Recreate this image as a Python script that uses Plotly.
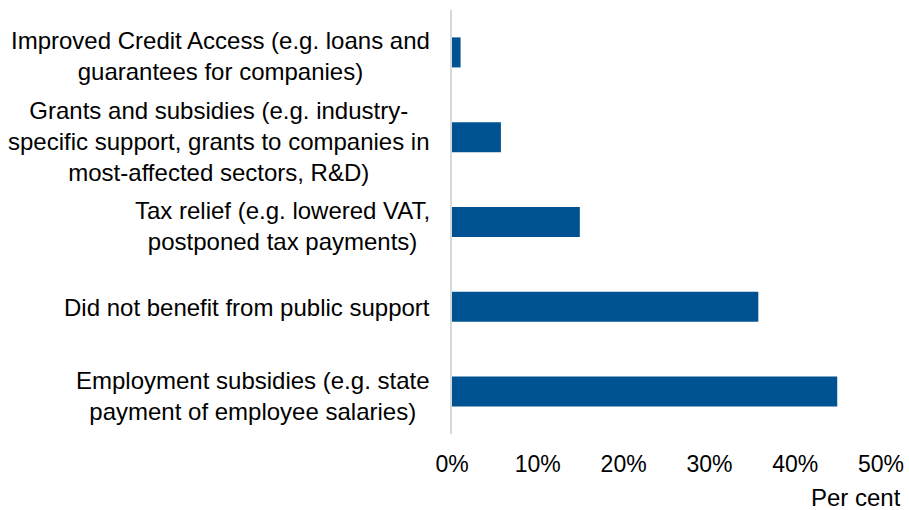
import plotly.graph_objects as go

# Share of firms by type of public support received (top to bottom)
categories = [
    "Improved Credit Access (e.g. loans and<br>guarantees for companies)",
    "Grants and subsidies (e.g. industry-<br>specific support, grants to companies in<br>most-affected sectors, R&D)",
    "Tax relief (e.g. lowered VAT,<br>postponed tax payments)",
    "Did not benefit from public support",
    "Employment subsidies (e.g. state<br>payment of employee salaries)",
]
values = [1.0, 5.7, 14.9, 35.7, 44.9]
tick_values = [0, 10, 20, 30, 40, 50]
tick_labels = ["0%", "10%", "20%", "30%", "40%", "50%"]
axis_title = "Per cent"

BAR_COLOR = "#005392"
FONT = "Liberation Sans, Arial, sans-serif"
LABEL_SIZE = 24
TICK_SIZE = 23

fig = go.Figure(
    go.Bar(
        x=values,
        y=categories,
        orientation="h",
        marker=dict(color=BAR_COLOR, line=dict(width=0)),
        hoverinfo="skip",
    )
)

# Category labels: centred multi-line blocks to the left of the axis
for cat in categories:
    n_lines = cat.count("<br>") + 1
    fig.add_annotation(
        x=0, xref="paper", xanchor="right",
        y=cat, yref="y", yanchor="middle",
        text=cat, showarrow=False, align="center",
        xshift=-21, yshift=-1 if n_lines == 1 else -4,
        borderpad=0,
        font=dict(family=FONT, size=LABEL_SIZE, color="#000000"),
    )

# Axis title under the tick labels, right-aligned
fig.add_annotation(
    x=1, xref="paper", xanchor="right",
    y=0, yref="paper", yanchor="middle",
    yshift=-63, xshift=21,
    height=22, valign="middle",
    text=axis_title, showarrow=False, borderpad=0,
    font=dict(family=FONT, size=LABEL_SIZE, color="#000000"),
)

fig.update_layout(
    template="none",
    width=909,
    height=510,
    margin=dict(l=452, r=28, t=10, b=76, pad=0),
    paper_bgcolor="white",
    plot_bgcolor="white",
    bargap=0.646,
    showlegend=False,
    font=dict(family=FONT, size=LABEL_SIZE, color="#000000"),
    xaxis=dict(
        range=[0, 50],
        tickvals=tick_values,
        ticktext=tick_labels,
        showgrid=False,
        zeroline=False,
        showline=False,
        ticks="",
        ticklabelstandoff=14,
        automargin=False,
        tickfont=dict(family=FONT, size=TICK_SIZE, color="#000000"),
        fixedrange=True,
    ),
    yaxis=dict(
        autorange="reversed",
        showticklabels=False,
        showgrid=False,
        zeroline=False,
        showline=True,
        linecolor="#d9d9d9",
        linewidth=2,
        ticks="",
        automargin=False,
        fixedrange=True,
    ),
)

fig.write_html("out.html")
